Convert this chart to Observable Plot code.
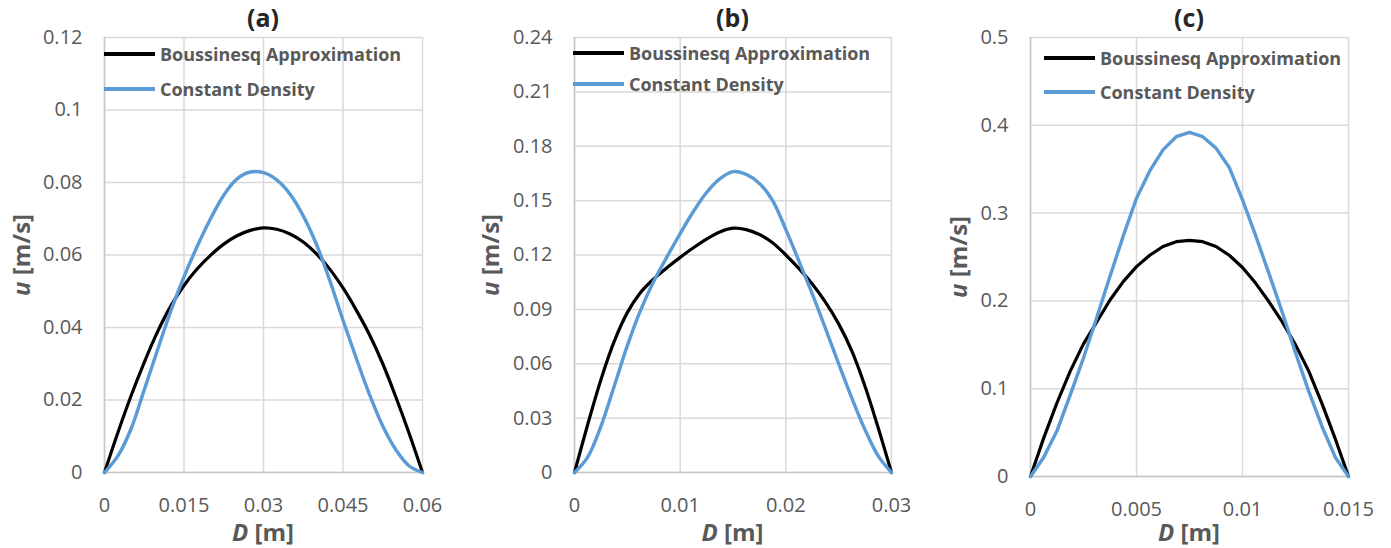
<!DOCTYPE html>
<html><head><meta charset="utf-8">
<script src="https://cdn.jsdelivr.net/npm/d3@7"></script>
<script src="https://cdn.jsdelivr.net/npm/@observablehq/plot@0.6"></script>
<style>
body{margin:0;background:#fff;}
#wrap{position:relative;width:1391px;height:548px;overflow:hidden;font-family:"Open Sans",sans-serif;color:#595959;background:#fff;}
.panel{position:absolute;top:0;height:548px;}
.panel svg{position:absolute;left:0;top:0;overflow:visible;}
.title{position:absolute;width:100px;text-align:center;font-weight:bold;font-size:25px;line-height:35px;height:35px;color:#262626;white-space:nowrap;}
.xlab{position:absolute;width:200px;text-align:center;font-weight:bold;font-size:24px;line-height:24px;color:#595959;white-space:nowrap;}
.ylab{position:absolute;width:200px;height:30px;text-align:center;font-weight:bold;font-size:24px;line-height:30px;color:#595959;white-space:nowrap;transform:rotate(-90deg);}
.leg{position:absolute;height:24px;display:flex;align-items:center;font-weight:bold;font-size:18px;color:#595959;white-space:nowrap;}
.sw{display:inline-block;width:51px;height:4px;margin-right:5px;}
</style>
</head><body>
<div id="wrap"></div>
<script>
// ---------- data ----------
const seriesNames = ["Boussinesq Approximation", "Constant Density"];
const panelTitles = ["(a)", "(b)", "(c)"];

const xA = [0, 0.0025, 0.005, 0.0075, 0.01, 0.0125, 0.015, 0.0175, 0.02, 0.0225, 0.025, 0.0275, 0.03, 0.0325, 0.035, 0.0375, 0.04, 0.0425, 0.045, 0.0475, 0.05, 0.0525, 0.055, 0.0575, 0.06];
const boussA = [0, 0.0109, 0.0211, 0.0304, 0.0388, 0.0459, 0.0516, 0.0562, 0.0599, 0.063, 0.0653, 0.0668, 0.0675, 0.0671, 0.0658, 0.0636, 0.0603, 0.0561, 0.0509, 0.0448, 0.038, 0.03, 0.0207, 0.0107, 0];
const constA = [0, 0.0045, 0.012, 0.0228, 0.0338, 0.0445, 0.054, 0.0624, 0.07, 0.0765, 0.081, 0.0829, 0.0827, 0.0807, 0.0768, 0.0708, 0.0629, 0.053, 0.042, 0.0315, 0.0215, 0.0128, 0.0062, 0.0018, 0];

const xB = [0, 0.00125, 0.0025, 0.00375, 0.005, 0.00625, 0.0075, 0.00875, 0.01, 0.01125, 0.0125, 0.01375, 0.015, 0.01625, 0.0175, 0.01875, 0.02, 0.02125, 0.0225, 0.02375, 0.025, 0.02625, 0.0275, 0.02875, 0.03];
const boussB = [0, 0.0265, 0.0512, 0.0722, 0.0882, 0.0993, 0.1068, 0.113, 0.1187, 0.124, 0.1288, 0.1327, 0.1348, 0.134, 0.1313, 0.1268, 0.12, 0.1125, 0.104, 0.094, 0.082, 0.067, 0.0475, 0.0245, 0];
const constB = [0, 0.0085, 0.0255, 0.0475, 0.07, 0.0895, 0.1055, 0.119, 0.1318, 0.144, 0.1545, 0.162, 0.166, 0.1645, 0.1595, 0.15, 0.134, 0.1165, 0.0985, 0.0795, 0.06, 0.041, 0.0235, 0.009, 0];

const xC = [0, 0.000625, 0.00125, 0.001875, 0.0025, 0.003125, 0.00375, 0.004375, 0.005, 0.005625, 0.00625, 0.006875, 0.0075, 0.008125, 0.00875, 0.009375, 0.01, 0.010625, 0.01125, 0.011875, 0.0125, 0.013125, 0.01375, 0.014375, 0.015];
const boussC = [0, 0.044, 0.084, 0.12, 0.151, 0.176, 0.201, 0.222, 0.239, 0.252, 0.262, 0.2675, 0.269, 0.2675, 0.262, 0.252, 0.238, 0.22, 0.199, 0.176, 0.15, 0.12, 0.083, 0.043, 0];
const constC = [0, 0.022, 0.052, 0.093, 0.135, 0.181, 0.228, 0.274, 0.317, 0.348, 0.372, 0.387, 0.392, 0.387, 0.374, 0.352, 0.315, 0.274, 0.231, 0.187, 0.141, 0.097, 0.057, 0.022, 0];

const xTicksA = [0, 0.015, 0.03, 0.045, 0.06];
const yTicksA = [0, 0.02, 0.04, 0.06, 0.08, 0.1, 0.12];
const xTicksB = [0, 0.01, 0.02, 0.03];
const yTicksB = [0, 0.03, 0.06, 0.09, 0.12, 0.15, 0.18, 0.21, 0.24];
const xTicksC = [0, 0.005, 0.01, 0.015];
const yTicksC = [0, 0.1, 0.2, 0.3, 0.4, 0.5];

// ---------- layout / style ----------
const colors = ["#000000", "#5B9BD5"];
const layout = [
  {left: 0,   width: 463, ml: 104, mr: 41, mt: 37, mb: 76, curve: "catmull-rom", ylabX: 21, leg: [54, 89], legX: 104},
  {left: 463, width: 464, ml: 111, mr: 36, mt: 37, mb: 76, curve: "catmull-rom", ylabX: 490, leg: [53, 84], legX: 573},
  {left: 927, width: 464, ml: 103, mr: 43, mt: 37, mb: 72, curve: "linear", ylabX: 958, leg: [58, 92], legX: 1044}
];
const panelData = [
  {x: xA, s: [boussA, constA], xt: xTicksA, yt: yTicksA},
  {x: xB, s: [boussB, constB], xt: xTicksB, yt: yTicksB},
  {x: xC, s: [boussC, constC], xt: xTicksC, yt: yTicksC}
];

const wrap = document.getElementById("wrap");

panelData.forEach((pd, i) => {
  const L = layout[i];
  const rows = [];
  pd.s.forEach((vals, si) => vals.forEach((v, j) => rows.push({x: pd.x[j], y: v, series: seriesNames[si]})));
  const xDom = [pd.xt[0], pd.xt[pd.xt.length - 1]];
  const yDom = [pd.yt[0], pd.yt[pd.yt.length - 1]];
  const chart = Plot.plot({
    width: L.width, height: 548,
    marginLeft: L.ml, marginRight: L.mr, marginTop: L.mt, marginBottom: L.mb,
    style: {fontFamily: "'Open Sans', sans-serif", fontSize: "20px", color: "#595959", background: "transparent", overflow: "visible"},
    x: {domain: xDom, ticks: pd.xt, tickFormat: d => String(d), label: null, tickSize: 0, tickPadding: 25},
    y: {domain: yDom, ticks: pd.yt, tickFormat: d => String(d), label: null, tickSize: 0, tickPadding: 22},
    marks: [
      Plot.gridX(pd.xt, {stroke: "#d9d9d9", strokeOpacity: 1, strokeWidth: 1.5}),
      Plot.gridY(pd.yt, {stroke: "#d9d9d9", strokeOpacity: 1, strokeWidth: 1.5}),
      Plot.ruleX([xDom[0]], {stroke: "#c8c8c8", strokeWidth: 1.5}),
      Plot.ruleY([yDom[0]], {stroke: "#c8c8c8", strokeWidth: 1.5}),
      Plot.line(rows.filter(r => r.series === seriesNames[0]), {x: "x", y: "y", stroke: colors[0], strokeWidth: 3.2, curve: L.curve}),
      Plot.line(rows.filter(r => r.series === seriesNames[1]), {x: "x", y: "y", stroke: colors[1], strokeWidth: 3.4, curve: L.curve})
    ]
  });
  const panel = document.createElement("div");
  panel.className = "panel";
  panel.style.left = L.left + "px";
  panel.style.width = L.width + "px";
  panel.appendChild(chart);
  wrap.appendChild(panel);

  const plotLeft = L.left + L.ml, plotRight = L.left + L.width - L.mr;
  const cx = (plotLeft + plotRight) / 2;
  const cy = (L.mt + (548 - L.mb)) / 2;

  const t = document.createElement("div");
  t.className = "title"; t.textContent = panelTitles[i];
  t.style.left = (cx - 50) + "px"; t.style.top = "0px";
  wrap.appendChild(t);

  const xl = document.createElement("div");
  xl.className = "xlab"; xl.innerHTML = "<i>D</i> [m]";
  xl.style.left = (cx - 100) + "px"; xl.style.top = "520px";
  wrap.appendChild(xl);

  const yl = document.createElement("div");
  yl.className = "ylab"; yl.innerHTML = "<i>u</i> [m/s]";
  yl.style.left = (L.ylabX - 100) + "px"; yl.style.top = (cy - 15) + "px";
  wrap.appendChild(yl);

  seriesNames.forEach((name, si) => {
    const lg = document.createElement("div");
    lg.className = "leg";
    lg.style.left = L.legX + "px";
    lg.style.top = (L.leg[si] - 12) + "px";
    const sw = document.createElement("span");
    sw.className = "sw"; sw.style.background = colors[si];
    lg.appendChild(sw);
    lg.appendChild(document.createTextNode(name));
    wrap.appendChild(lg);
  });
});
</script>
</body></html>
